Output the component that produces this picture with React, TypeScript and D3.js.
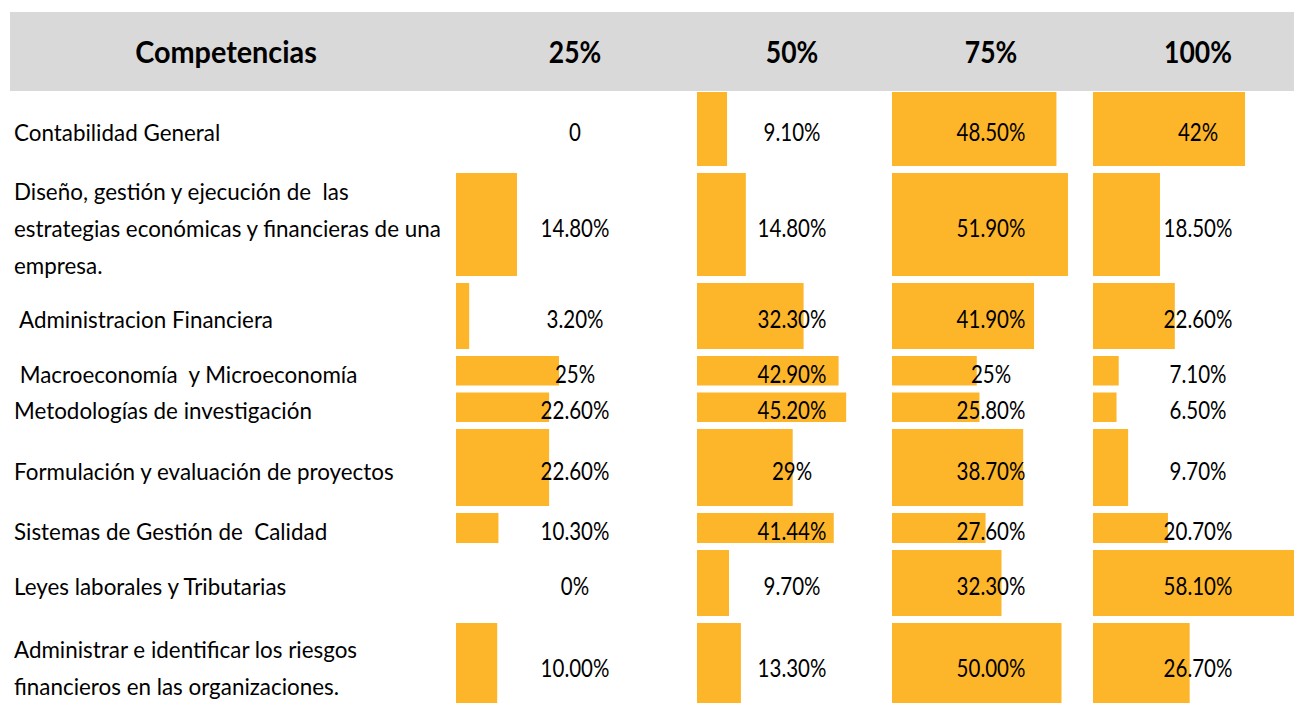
import React from 'react';
import * as d3 from 'd3';

// Row labels (some carry the leading / double spaces of the source sheet)
const competencias = [
  ['Contabilidad General'],
  ['Diseño, gestión y ejecución de  las', 'estrategias económicas y financieras de una', 'empresa.'],
  [' Administracion Financiera'],
  [' Macroeconomía  y Microeconomía'],
  ['Metodologías de investigación'],
  ['Formulación y evaluación de proyectos'],
  ['Sistemas de Gestión de  Calidad'],
  ['Leyes laborales y Tributarias'],
  ['Administrar e identificar los riesgos', 'financieros en las organizaciones.'],
];

const headers = ['25%', '50%', '75%', '100%'];

const v25 = [0, 14.8, 3.2, 25, 22.6, 22.6, 10.3, 0, 10.0];
const v50 = [9.1, 14.8, 32.3, 42.9, 45.2, 29, 41.44, 9.7, 13.3];
const v75 = [48.5, 51.9, 41.9, 25, 25.8, 38.7, 27.6, 32.3, 50.0];
const v100 = [42, 18.5, 22.6, 7.1, 6.5, 9.7, 20.7, 58.1, 26.7];

const labels25 = ['0', '14.80%', '3.20%', '25%', '22.60%', '22.60%', '10.30%', '0%', '10.00%'];
const labels50 = ['9.10%', '14.80%', '32.30%', '42.90%', '45.20%', '29%', '41.44%', '9.70%', '13.30%'];
const labels75 = ['48.50%', '51.90%', '41.90%', '25%', '25.80%', '38.70%', '27.60%', '32.30%', '50.00%'];
const labels100 = ['42%', '18.50%', '22.60%', '7.10%', '6.50%', '9.70%', '20.70%', '58.10%', '26.70%'];

const W = 1294;
const H = 703;
const FONT = 'Lato, "Noto Sans", sans-serif';
const BAR = '#FDB52A';

// layout of the sheet
const rowHeights = [81, 110, 73, 36.5, 36.5, 84, 37, 73, 90];
const rowGap = 7;
const top0 = 92;
const lineStep = 37;

const columns = [
  { title: headers[0], values: v25, labels: labels25, left: 456, center: 575, span: 412 },
  { title: headers[1], values: v50, labels: labels50, left: 697, center: 792, span: 330 },
  { title: headers[2], values: v75, labels: labels75, left: 892, center: 991, span: 339 },
  { title: headers[3], values: v100, labels: labels100, left: 1093, center: 1198, span: 362 },
];

function Txt({ x, y, children, anchor = 'start', size = 20.5, weight = 400, sy = 1.18 }) {
  return (
    <text
      transform={`translate(${x},${y}) scale(1,${sy})`}
      textAnchor={anchor}
      fontSize={size}
      fontWeight={weight}
      fill="#000"
      style={{ whiteSpace: 'pre' }}
    >
      {children}
    </text>
  );
}

export default function App() {
  const rowTops = rowHeights.map((_, i) => top0 + d3.sum(rowHeights.slice(0, i)));

  return (
    <svg
      width={W}
      height={H}
      style={{ position: 'absolute', left: 0, top: 0, background: '#fff', fontFamily: FONT }}
    >
      {/* header band */}
      <rect x={10} y={12} width={W - 10} height={79} fill="#D9D9D9" />
      <Txt x={226} y={63} anchor="middle" size={28.8} weight={700} sy={1.09}>Competencias</Txt>
      {columns.map(c => (
        <Txt key={c.title} x={c.center} y={63} anchor="middle" size={26.5} weight={700}>{c.title}</Txt>
      ))}

      {/* data bars */}
      {columns.map(c => {
        const x = d3.scaleLinear().domain([0, 100]).range([0, c.span]);
        return (
          <g key={'bars' + c.title}>
            {c.values.map((v, i) => (
              v > 0 ? (
                <rect
                  key={i}
                  x={c.left}
                  y={rowTops[i]}
                  width={x(v)}
                  height={rowHeights[i] - rowGap}
                  fill={BAR}
                />
              ) : null
            ))}
          </g>
        );
      })}

      {/* labels */}
      {competencias.map((lines, i) => {
        const mid = rowTops[i] + (rowHeights[i] - rowGap) / 2 + 12;
        const first = mid - ((lines.length - 1) * lineStep) / 2;
        return lines.map((ln, j) => (
          <Txt key={i + '-' + j} x={14} y={first + j * lineStep} size={22.4} sy={1.07}>{ln}</Txt>
        ));
      })}

      {/* values */}
      {columns.map(c => c.labels.map((t, i) => (
        <Txt
          key={c.title + i}
          x={c.center}
          y={rowTops[i] + (rowHeights[i] - rowGap) / 2 + 12}
          anchor="middle"
        >
          {t}
        </Txt>
      )))}
    </svg>
  );
}
